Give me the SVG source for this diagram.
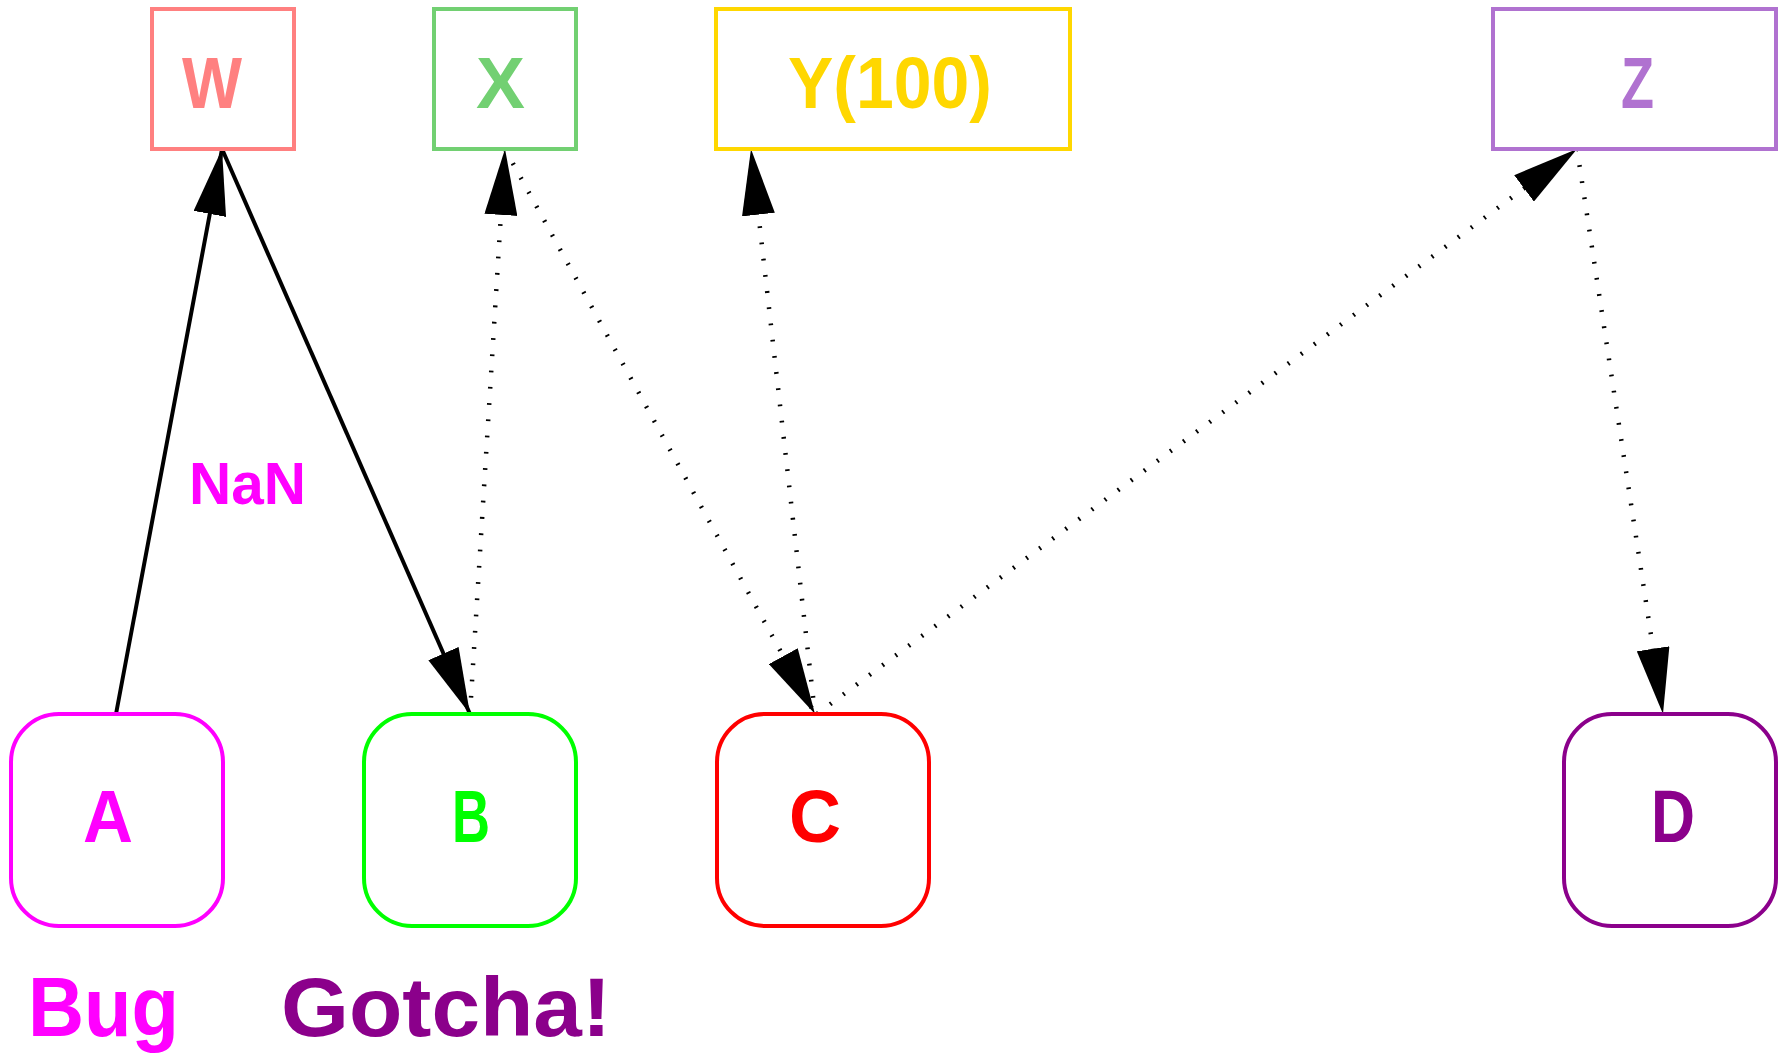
<svg xmlns="http://www.w3.org/2000/svg" width="1785" height="1058" viewBox="0 0 1785 1058">
  <style>
    text { font-family: "Liberation Sans", Arial, sans-serif; font-weight: bold; }
    .box { fill: #ffffff; stroke-width: 4; }
    .edge { fill: none; stroke: #000000; stroke-width: 4; }
    .dot { stroke-width: 4.5; stroke-dasharray: 1.8 14.5; }
    .top { font-size: 73px; }
    .node { font-size: 74px; }
  </style>
  <defs>
    <marker id="arrow" viewBox="0 0 66 33" refX="66" refY="16.5" markerWidth="66" markerHeight="33" markerUnits="userSpaceOnUse" orient="auto">
      <path d="M0,0 L66,16.5 L0,33 Z" fill="#000000"/>
    </marker>
  </defs>
  <rect width="1785" height="1058" fill="#ffffff"/>

  <g id="connectors">
    <line class="edge" x1="116" y1="714" x2="222" y2="149" marker-end="url(#arrow)"/>
    <line class="edge" x1="222" y1="149" x2="470" y2="714" marker-end="url(#arrow)"/>
    <line class="edge dot" x1="470" y1="714" x2="505" y2="149" marker-end="url(#arrow)"/>
    <line class="edge dot" x1="505" y1="149" x2="815" y2="714" marker-end="url(#arrow)"/>
    <line class="edge dot" x1="815" y1="714" x2="751" y2="149" marker-end="url(#arrow)"/>
    <line class="edge dot" x1="817" y1="714" x2="1577" y2="149" marker-end="url(#arrow)"/>
    <line class="edge dot" x1="1577" y1="149" x2="1663" y2="714" marker-end="url(#arrow)"/>
    <text x="189" y="504" font-size="60" fill="#ff00ff" textLength="117" lengthAdjust="spacingAndGlyphs">NaN</text>
  </g>

  <g id="node-W">
    <rect class="box" x="152" y="9" width="142" height="140" stroke="#ff8080"/>
    <text class="top" x="182" y="108" fill="#ff8080" textLength="60" lengthAdjust="spacingAndGlyphs">W</text>
  </g>
  <g id="node-X">
    <rect class="box" x="434" y="9" width="142" height="140" stroke="#72d072"/>
    <text class="top" x="476" y="108" fill="#72d072" textLength="49" lengthAdjust="spacingAndGlyphs">X</text>
  </g>
  <g id="node-Y">
    <rect class="box" x="716" y="9" width="354" height="140" stroke="#ffd700"/>
    <text class="top" x="788" y="108" fill="#ffd700" textLength="204" lengthAdjust="spacingAndGlyphs">Y(100)</text>
  </g>
  <g id="node-Z">
    <rect class="box" x="1493" y="9" width="283" height="140" stroke="#b072d0"/>
    <text class="top" x="1621" y="108" fill="#b072d0" textLength="33" lengthAdjust="spacingAndGlyphs">Z</text>
  </g>

  <g id="node-A">
    <rect class="box" x="11" y="714" width="212" height="212" rx="48" ry="48" stroke="#ff00ff"/>
    <text class="node" x="83" y="842" fill="#ff00ff" textLength="50" lengthAdjust="spacingAndGlyphs">A</text>
  </g>
  <g id="node-B">
    <rect class="box" x="364" y="714" width="212" height="212" rx="48" ry="48" stroke="#00ff00"/>
    <text class="node" x="452" y="842" fill="#00ff00" textLength="38" lengthAdjust="spacingAndGlyphs">B</text>
  </g>
  <g id="node-C">
    <rect class="box" x="717" y="714" width="212" height="212" rx="48" ry="48" stroke="#ff0000"/>
    <text class="node" x="789" y="842" fill="#ff0000" textLength="52" lengthAdjust="spacingAndGlyphs">C</text>
  </g>
  <g id="node-D">
    <rect class="box" x="1564" y="714" width="212" height="212" rx="48" ry="48" stroke="#8b008b"/>
    <text class="node" x="1651" y="842" fill="#8b008b" textLength="44" lengthAdjust="spacingAndGlyphs">D</text>
  </g>

  <g id="label-bug">
    <text x="28" y="1036" font-size="84" fill="#ff00ff" textLength="151" lengthAdjust="spacingAndGlyphs">Bug</text>
  </g>
  <g id="label-gotcha">
    <text x="281" y="1036" font-size="84" fill="#8b008b" textLength="330" lengthAdjust="spacingAndGlyphs">Gotcha!</text>
  </g>
</svg>
